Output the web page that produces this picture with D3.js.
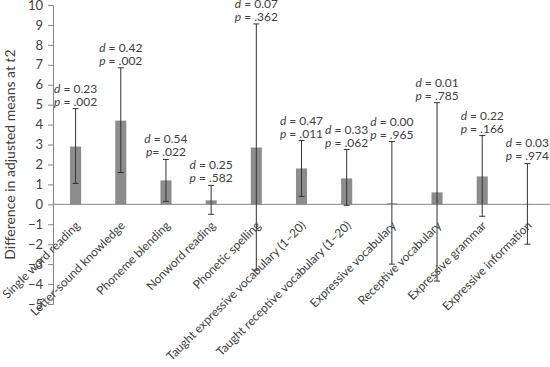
<!DOCTYPE html>
<html>
<head>
<meta charset="utf-8">
<script src="https://cdn.jsdelivr.net/npm/d3@7"></script>
<style>
  body { margin: 0; background: #fff; }
  svg { font-family: Lato, "Liberation Sans", sans-serif; }
</style>
</head>
<body>
<div id="chart"></div>
<script>
const svgWidth = 550
const svgHeight = 367

const categories = [
	"Single word reading", "Letter-sound knowledge", "Phoneme blending", "Nonword reading",
	"Phonetic spelling", "Taught expressive vocabulary (1\u201320)", "Taught receptive vocabulary (1\u201320)",
	"Expressive vocabulary", "Receptive vocabulary", "Expressive grammar", "Expressive information"
]
const means = [2.9, 4.2, 1.2, 0.2, 2.85, 1.8, 1.3, 0.05, 0.6, 1.4, 0.02]
const upper = [4.8, 6.85, 2.25, 0.95, 9.05, 3.2, 2.75, 3.15, 5.1, 3.45, 2.05]
const lower = [1.05, 1.6, 0.15, -0.5, -3.3, 0.4, -0.05, -3.0, -3.85, -0.6, -2.0]
const dVals = ["0.23", "0.42", "0.54", "0.25", "0.07", "0.47", "0.33", "0.00", "0.01", "0.22", "0.03"]
const pVals = [" = .002", " = .002", "= .022", " = .582", " = .362", " = .011", " = .062", " = .965", " = .785", " = .166", " = .974"]
const yTicks = d3.range(-5, 11)

const margin = { left: 53, right: 0, top: 5, bottom: 63 }

const data = categories.map((c, i) => ({
	name: c, mean: means[i], hi: upper[i], lo: lower[i], d: dVals[i], p: pVals[i]
}))

const svg = d3.select("#chart")
	.append("svg")
	.attr("width", svgWidth)
	.attr("height", svgHeight)

const x = d3.scaleBand()
	.domain(categories)
	.range([margin.left, svgWidth - margin.right])
	.padding(0)
const y = d3.scaleLinear()
	.domain([-5, 10])
	.range([svgHeight - margin.bottom, margin.top])

const barW = x.bandwidth() * 0.245
const cx = d => x(d.name) + x.bandwidth() / 2

// bars
svg.append("g")
	.selectAll("rect")
	.data(data)
	.enter().append("rect")
	.attr("x", d => cx(d) - barW / 2)
	.attr("width", barW)
	.attr("y", d => y(Math.max(0, d.mean)))
	.attr("height", d => Math.abs(y(d.mean) - y(0)))
	.attr("fill", "#8c8c8c")

// y axis
const yAxis = svg.append("g")
	.attr("transform", `translate(${margin.left},0)`)
	.call(d3.axisLeft(y).tickValues(yTicks).tickSize(5).tickPadding(5).tickFormat(d => d < 0 ? "\u2212" + Math.abs(d) : d))
yAxis.select(".domain").attr("stroke", "#868686")
yAxis.selectAll(".tick line").attr("stroke", "#868686")
yAxis.selectAll(".tick text")
	.attr("fill", "#404040")
	.style("font-size", "13px")
	.style("font-family", "Lato, sans-serif")

// zero line
svg.append("line")
	.attr("x1", margin.left).attr("x2", svgWidth)
	.attr("y1", y(0)).attr("y2", y(0))
	.attr("stroke", "#868686")

// error bars
const err = svg.append("g")
	.attr("stroke", "#333")
	.attr("stroke-width", 1)
	.selectAll("g")
	.data(data)
	.enter().append("g")
err.append("line")
	.attr("x1", cx).attr("x2", cx)
	.attr("y1", d => y(d.hi)).attr("y2", d => y(d.lo))
err.append("line")
	.attr("x1", d => cx(d) - 3).attr("x2", d => cx(d) + 3)
	.attr("y1", d => y(d.hi)).attr("y2", d => y(d.hi))
err.append("line")
	.attr("x1", d => cx(d) - 3).attr("x2", d => cx(d) + 3)
	.attr("y1", d => y(d.lo)).attr("y2", d => y(d.lo))

// d / p annotations
const ann = svg.append("g")
	.attr("fill", "#404040")
	.style("font-size", "12px")
	.attr("text-anchor", "middle")
	.selectAll("g")
	.data(data)
	.enter().append("g")
ann.append("text")
	.attr("x", cx)
	.attr("y", d => y(d.hi) - 16)
	.call(t => t.append("tspan").attr("font-style", "italic").text("d"))
	.call(t => t.append("tspan").text(d => " = " + d.d))
ann.append("text")
	.attr("x", cx)
	.attr("y", d => y(d.hi) - 3)
	.call(t => t.append("tspan").attr("font-style", "italic").text("p"))
	.call(t => t.append("tspan").text(d => d.p))

// category labels
svg.append("g")
	.attr("fill", "#404040")
	.style("font-size", "12px")
	.selectAll("text")
	.data(data)
	.enter().append("text")
	.attr("text-anchor", "end")
	.attr("transform", d => `translate(${cx(d) + 2},${y(0) + 19}) rotate(-45)`)
	.attr("dy", "0.35em")
	.text(d => d.name)

// y title
svg.append("text")
	.attr("transform", `translate(15,${(margin.top + y(-5)) / 2}) rotate(-90)`)
	.attr("text-anchor", "middle")
	.attr("fill", "#404040")
	.style("font-size", "14px")
	.call(t => t.append("tspan").text("Difference in adjusted means at "))
	.call(t => t.append("tspan").attr("font-style", "italic").text("t"))
	.call(t => t.append("tspan").text("2"))
</script>
</body>
</html>
